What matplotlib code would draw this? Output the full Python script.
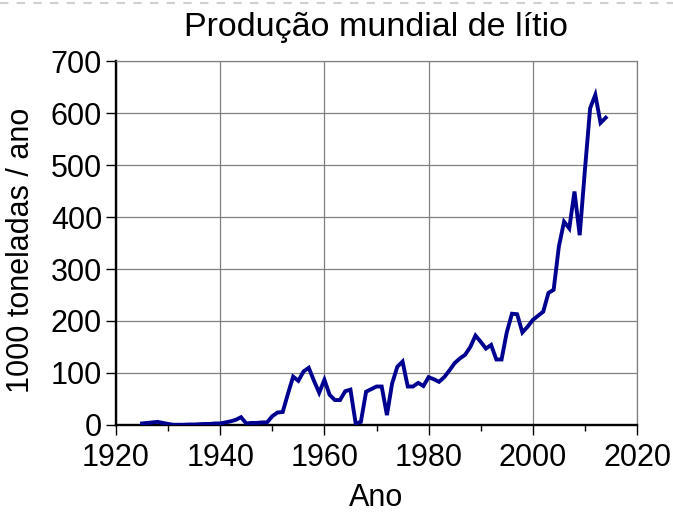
import matplotlib
matplotlib.use("Agg")
import matplotlib.pyplot as plt
from matplotlib.lines import Line2D
from matplotlib.ticker import MultipleLocator

years = list(range(1925, 2015))
production = [3, 4, 5, 6, 4, 2, 0.5, 0.5, 0.5, 1, 1, 1.5, 2, 2, 3, 3, 5, 7, 10, 15,
              3, 4, 4, 5, 5, 17, 24, 25, 60, 93, 85, 103, 110, 85, 62, 87, 58, 48, 48, 65,
              68, 3, 6, 64, 69, 74, 74, 19, 80, 112, 122, 74, 74, 81, 75, 92, 88, 83, 92, 105,
              119, 128, 135, 150, 172, 160, 147, 154, 126, 126, 178, 214, 213, 178, 189, 202, 210, 218, 254, 260,
              343, 391, 378, 449, 365, 490, 609, 635, 581, 591]

title = "Produção mundial de lítio"
xlabel = "Ano"
ylabel = "1000 toneladas / ano"

plt.rcParams['font.family'] = ['Liberation Sans', 'DejaVu Sans']

fig = plt.figure(figsize=(6.73, 5.17), dpi=100)
ax = fig.add_axes([116/673, 1-425/517, (637-116)/673, (425-61)/517])

ax.plot(years, production, color='#000090', lw=2.8, solid_joinstyle='miter', zorder=3)

ax.set_xlim(1920, 2020)
ax.set_ylim(0, 700)
ax.xaxis.set_major_locator(MultipleLocator(20))
ax.xaxis.set_minor_locator(MultipleLocator(10))
ax.yaxis.set_major_locator(MultipleLocator(100))
ax.grid(True, which='major', color='#808080', lw=0.9)
ax.set_axisbelow(True)

ax.tick_params(axis='both', which='major', direction='out', length=7, width=1, labelsize=22,
               color='black', pad=3)
ax.tick_params(axis='x', which='major', pad=6)
ax.tick_params(axis='x', which='minor', direction='out', length=4, width=1, color='black')

for s in ['top', 'right']:
    ax.spines[s].set_color('#808080')
    ax.spines[s].set_linewidth(0.9)
for s in ['left', 'bottom']:
    ax.spines[s].set_color('black')
    ax.spines[s].set_linewidth(1.7)

ax.set_title(title, fontsize=24.5, pad=18)
ax.set_xlabel(xlabel, fontsize=22, labelpad=7)
ax.set_ylabel(ylabel, fontsize=22)
ax.yaxis.set_label_coords(-0.153, 0.48)

fig.add_artist(Line2D([0, 1], [1 - 3/517, 1 - 3/517], transform=fig.transFigure,
                      color='#d0d0d0', lw=1.5, ls=(0, (4, 4))))

fig.savefig("out.png", dpi=100)
